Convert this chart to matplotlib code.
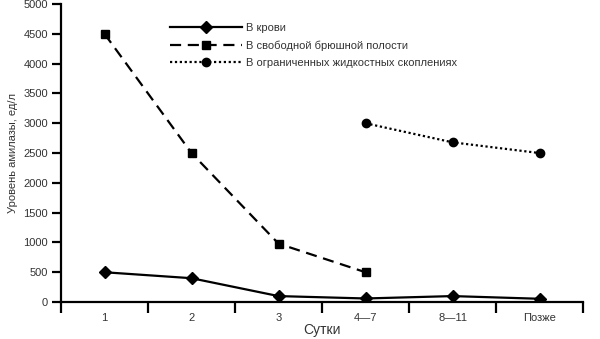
import matplotlib
matplotlib.use("Agg")
import matplotlib.pyplot as plt
import numpy as np

plt.rcParams['font.family'] = ['Liberation Sans', 'DejaVu Sans']

days = ['1', '2', '3', '4\u20147', '8\u201411', 'Позже']
blood = [500, 400, 100, 60, 100, 55]
free_cavity = [4500, 2500, 980, 500]
fluid_collections = [3000, 2680, 2500]

x = np.arange(len(days))

fig = plt.figure(figsize=(6.0, 3.39), dpi=100)
ax = fig.add_axes([0.1017, 0.109, 0.87, 0.879])

ax.plot(x, blood, color='black', lw=1.6, marker='D', ms=6.5,
        label='В крови')
ax.plot(x[:4], free_cavity, color='black', lw=1.6, ls=(0, (5, 3)),
        marker='s', ms=5.5, label='В свободной брюшной полости')
ax.plot(x[3:], fluid_collections, color='black', lw=1.6, ls=(0, (1, 1.2)),
        marker='o', ms=6, label='В ограниченных жидкостных скоплениях')

ax.set_xlim(-0.5, 5.5)
ax.set_ylim(0, 5000)
ax.set_yticks(np.arange(0, 5001, 500))
ax.set_xticks(x)
ax.set_xticklabels(days)
ax.set_xticks(np.arange(-0.5, 6, 1), minor=True)

ax.spines['top'].set_visible(False)
ax.spines['right'].set_visible(False)
for s in ('left', 'bottom'):
    ax.spines[s].set_linewidth(1.6)

ax.tick_params(axis='x', which='major', length=0, pad=8, labelsize=8,
               labelcolor='#333333')
ax.tick_params(axis='x', which='minor', length=8, width=1.6, direction='out')
ax.tick_params(axis='y', length=6.5, width=1.6, labelsize=8,
               labelcolor='#333333', pad=3)

ax.set_xlabel('Сутки', fontsize=10, color='#333333', labelpad=0)
ax.set_ylabel('Уровень амилазы, ед/л', fontsize=8, color='#333333', labelpad=4)

leg = ax.legend(loc='upper left', bbox_to_anchor=(0.19, 0.97), frameon=False,
                fontsize=8, handlelength=6.5, handletextpad=0.3,
                labelspacing=0.65, labelcolor='#333333')

fig.savefig('out.png', dpi=100)
